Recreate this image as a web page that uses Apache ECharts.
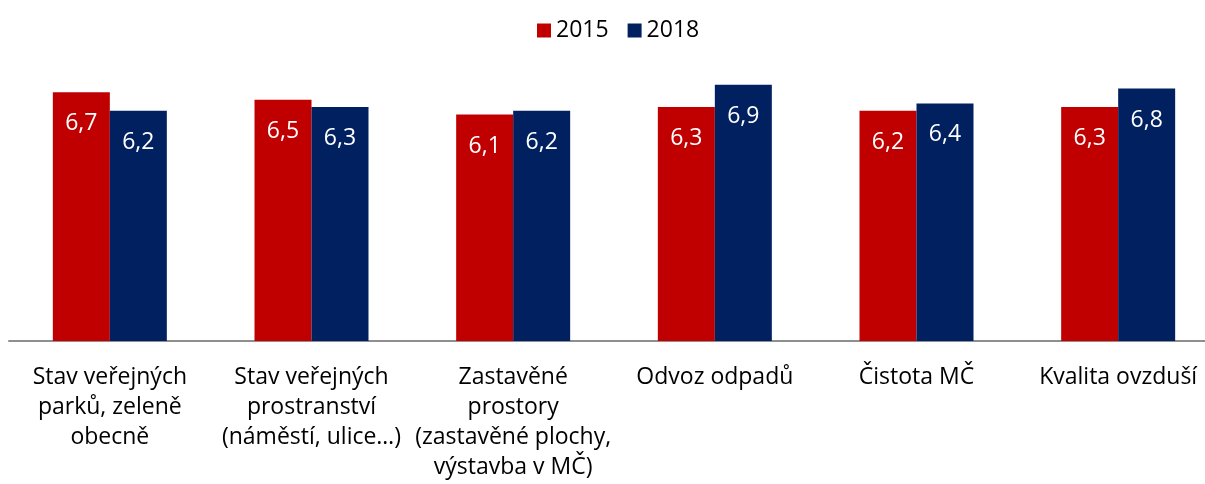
<!DOCTYPE html>
<html>
<head>
<meta charset="utf-8">
<script src="https://cdn.jsdelivr.net/npm/echarts@6/dist/echarts.min.js"></script>
<style>
  html, body { margin: 0; padding: 0; background: #fff; }
  #chart { width: 1205px; height: 484px; }
</style>
</head>
<body>
<div id="chart"></div>
<script>
// kategorie (zalomení řádků jako v originále)
const categories = [
  'Stav veřejných\nparků, zeleně\nobecně',
  'Stav veřejných\nprostranství\n(náměstí, ulice…)',
  'Zastavěné\nprostory\n(zastavěné plochy,\nvýstavba v MČ)',
  'Odvoz odpadů',
  'Čistota MČ',
  'Kvalita ovzduší'
];
const values2015 = [6.7, 6.5, 6.1, 6.3, 6.2, 6.3];
const values2018 = [6.2, 6.3, 6.2, 6.9, 6.4, 6.8];

const FONT = '"Open Sans", "Noto Sans", sans-serif';

const label = {
  show: true,
  position: 'insideTop',
  distance: 20,
  color: '#fff',
  fontSize: 23,
  fontFamily: FONT,
  formatter: p => p.value.toFixed(1).replace('.', ',')
};

const chart = echarts.init(document.getElementById('chart'));
chart.setOption({
  animation: false,
  legend: {
    data: ['2015', '2018'],
    top: 14,
    left: 532,
    icon: 'rect',
    itemWidth: 14,
    itemHeight: 14,
    itemGap: 19,
    textStyle: { fontSize: 23, fontFamily: FONT, color: '#000' }
  },
  grid: {
    left: 9,
    width: 1210,
    top: 44,
    bottom: 143,
    containLabel: false,
    outerBoundsMode: 'none'
  },
  xAxis: {
    type: 'category',
    data: categories,
    axisLine: { lineStyle: { color: '#8f8f8f', width: 2 } },
    axisTick: { show: false },
    axisLabel: {
      interval: 0,
      margin: 21,
      color: '#000',
      fontSize: 23,
      lineHeight: 30,
      fontFamily: FONT
    }
  },
  yAxis: {
    type: 'value',
    min: 0,
    max: 8,
    show: false,
    splitLine: { show: false }
  },
  series: [
    {
      name: '2015',
      type: 'bar',
      data: values2015,
      barWidth: 57,
      barGap: '0%',
      itemStyle: { color: '#C00000' },
      label: label
    },
    {
      name: '2018',
      type: 'bar',
      data: values2018,
      barWidth: 57,
      itemStyle: { color: '#002060' },
      label: label
    }
  ]
});
</script>
</body>
</html>
